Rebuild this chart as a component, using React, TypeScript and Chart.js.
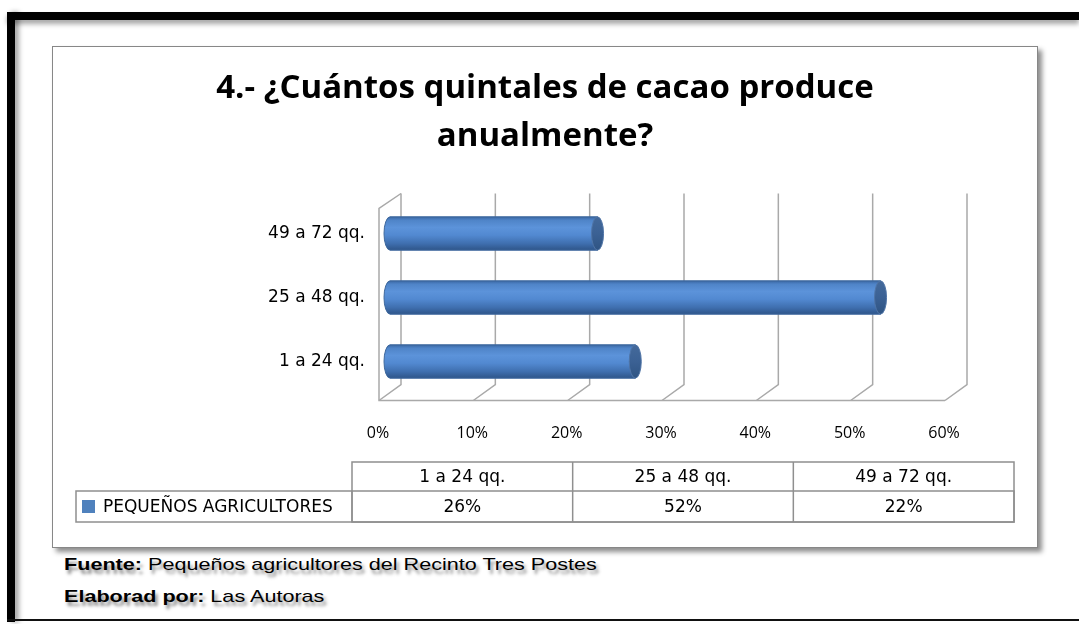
import React, { useEffect, useRef } from "react";
import { Chart, registerables } from "chart.js";

Chart.register(...registerables);

// ---------- data ----------
const TITLE_LINES = ["4.- ¿Cuántos quintales de cacao produce", "anualmente?"];
const CATEGORIES = ["1 a 24 qq.", "25 a 48 qq.", "49 a 72 qq."];
const SERIES_NAME = "PEQUEÑOS AGRICULTORES";
const VALUES = [26, 52, 22];
const AXIS_MAX = 60;
const AXIS_STEP = 10;
const SOURCE_LABEL = "Fuente:";
const SOURCE_TEXT = "Pequeños agricultores del Recinto Tres Postes";
const AUTHOR_LABEL = "Elaborad por:";
const AUTHOR_TEXT = "Las Autoras";

const BAR_BLUE = "#4f81bd";

// 3D box (back wall, floor, side wall) drawn from the x scale
const grid3d = {
  id: "grid3d",
  beforeDatasetsDraw(chart: any) {
    const { ctx, chartArea, scales } = chart;
    const x = scales.x;
    const { top, bottom } = chartArea;
    const DX = 11;
    const backTop = top - 8;
    const backBottom = bottom - 9;
    const frontBottom = bottom + 7;
    ctx.save();
    ctx.strokeStyle = "#a9a9a9";
    ctx.lineWidth = 1.5;
    x.ticks.forEach((t: any) => {
      const px = x.getPixelForValue(t.value);
      ctx.beginPath();
      ctx.moveTo(px + DX, backTop);
      ctx.lineTo(px + DX, backBottom);
      ctx.lineTo(px - DX, frontBottom);
      ctx.stroke();
    });
    const x0 = x.getPixelForValue(0);
    const x1 = x.getPixelForValue(AXIS_MAX);
    ctx.beginPath();
    ctx.moveTo(x1 - DX, frontBottom);
    ctx.lineTo(x0 - DX, frontBottom);
    ctx.lineTo(x0 - DX, top + 7);
    ctx.lineTo(x0 + DX, backTop);
    ctx.stroke();
    ctx.restore();
  },
};

// cylinder shading over the library's bar elements
const cylinders = {
  id: "cylinders",
  afterDatasetsDraw(chart: any) {
    const { ctx } = chart;
    const meta = chart.getDatasetMeta(0);
    ctx.save();
    meta.data.forEach((el: any) => {
      const { x, y, base, height } = el.getProps(["x", "y", "base", "height"], true);
      const ry = height / 2;
      const rx = 6;
      const g = ctx.createLinearGradient(0, y - ry, 0, y + ry);
      g.addColorStop(0, "#3a67a3");
      g.addColorStop(0.1, "#4f84c8");
      g.addColorStop(0.32, "#5c93da");
      g.addColorStop(0.55, "#5289d1");
      g.addColorStop(0.8, "#3f6faf");
      g.addColorStop(1, "#2e5589");
      ctx.beginPath();
      ctx.moveTo(base, y - ry);
      ctx.lineTo(x, y - ry);
      ctx.lineTo(x, y + ry);
      ctx.lineTo(base, y + ry);
      ctx.ellipse(base, y, rx, ry, 0, Math.PI / 2, (3 * Math.PI) / 2);
      ctx.closePath();
      ctx.fillStyle = g;
      ctx.fill();
      ctx.strokeStyle = "#3d679c";
      ctx.lineWidth = 1;
      ctx.stroke();
      const gc = ctx.createLinearGradient(0, y - ry, 0, y + ry);
      gc.addColorStop(0, "#44699b");
      gc.addColorStop(0.5, "#3b6194");
      gc.addColorStop(1, "#2f5483");
      ctx.beginPath();
      ctx.ellipse(x, y, rx, ry, 0, 0, Math.PI * 2);
      ctx.fillStyle = gc;
      ctx.fill();
      ctx.strokeStyle = "#4f74a6";
      ctx.stroke();
    });
    ctx.restore();
  },
};

// data table below the plot
const dataTable = {
  id: "dataTable",
  afterDraw(chart: any) {
    const { ctx } = chart;
    const L0 = 24, L1 = 300, R = 962, T0 = 416, T1 = 445, B = 476;
    const n = CATEGORIES.length;
    const colW = (R - L1) / n;
    ctx.save();
    ctx.strokeStyle = "#8f8f8f";
    ctx.lineWidth = 1.5;
    ctx.strokeRect(L1, T0, R - L1, B - T0);
    ctx.strokeRect(L0, T1, R - L0, B - T1);
    for (let i = 1; i < n; i++) {
      ctx.beginPath();
      ctx.moveTo(L1 + i * colW, T0);
      ctx.lineTo(L1 + i * colW, B);
      ctx.stroke();
    }
    ctx.beginPath();
    ctx.moveTo(L1, T1);
    ctx.lineTo(L1, B);
    ctx.stroke();
    ctx.fillStyle = "#000";
    ctx.font = '17px "DejaVu Sans"';
    ctx.textAlign = "center";
    ctx.textBaseline = "middle";
    CATEGORIES.forEach((c, i) => {
      ctx.fillText(c, L1 + (i + 0.5) * colW, (T0 + T1) / 2 + 1);
      ctx.fillText(VALUES[i] + "%", L1 + (i + 0.5) * colW, (T1 + B) / 2 + 1);
    });
    ctx.fillStyle = BAR_BLUE;
    ctx.fillRect(L0 + 6, (T1 + B) / 2 - 6.5, 13, 13);
    ctx.fillStyle = "#000";
    ctx.textAlign = "left";
    ctx.fillText(SERIES_NAME, L0 + 27, (T1 + B) / 2 + 1);
    ctx.restore();
  },
};

export default function App() {
  const ref = useRef<HTMLCanvasElement>(null);
  useEffect(() => {
    const canvas = ref.current as HTMLCanvasElement;
    const chart = new Chart(canvas, {
      type: "bar",
      data: {
        labels: CATEGORIES,
        datasets: [
          {
            label: SERIES_NAME,
            data: VALUES,
            backgroundColor: BAR_BLUE,
            barPercentage: 0.52,
            categoryPercentage: 1,
          },
        ],
      },
      options: {
        indexAxis: "y",
        responsive: false,
        animation: false,
        devicePixelRatio: 1,
        layout: { padding: { left: 82, right: 82, top: 0, bottom: 94.5 } },
        plugins: {
          legend: { display: false },
          tooltip: { enabled: false },
          title: {
            display: true,
            text: TITLE_LINES,
            color: "#000",
            font: { family: '"Open Sans"', size: 33, weight: "bold", lineHeight: 48 / 33 },
            padding: { top: 18.5, bottom: 41 },
          },
        },
        scales: {
          x: {
            type: "linear",
            min: 0,
            max: AXIS_MAX,
            position: "bottom",
            grid: { display: false, drawTicks: false },
            border: { display: false },
            afterFit: (s: any) => {
              s.height = 60;
            },
            ticks: {
              stepSize: AXIS_STEP,
              autoSkip: false,
              maxRotation: 0,
              padding: 30,
              labelOffset: -12,
              color: "#000",
              font: { family: '"Open Sans"', size: 16 },
              callback: (v: any) => v + "%",
            },
          },
          y: {
            reverse: true,
            grid: { display: false, drawTicks: false },
            border: { display: false },
            afterFit: (s: any) => {
              s.width = 256;
            },
            ticks: {
              padding: 25,
              color: "#000",
              font: { family: '"DejaVu Sans"', size: 17 },
            },
          },
        },
      },
      plugins: [grid3d, cylinders, dataTable],
    } as any);
    return () => chart.destroy();
  }, []);

  const footStyle: React.CSSProperties = {
    position: "absolute",
    left: 64,
    font: '17px "Liberation Sans", Arial, sans-serif',
    lineHeight: "20px",
    color: "#000",
    whiteSpace: "nowrap",
    transform: "scaleX(1.27)",
    transformOrigin: "left center",
    textShadow: "2px 4px 3px rgba(0,0,0,0.45)",
  };

  return (
    <div
      style={{
        position: "absolute",
        left: 0,
        top: 0,
        width: 1079,
        height: 624,
        background: "#fff",
        overflow: "hidden",
      }}
    >
      <div style={{ position: "absolute", left: 7, top: 12, width: 1072, height: 8, background: "#000", boxShadow: "0 4px 5px rgba(0,0,0,0.35)" }} />
      <div style={{ position: "absolute", left: 7, top: 12, width: 8, height: 610, background: "#000", boxShadow: "4px 0 5px rgba(0,0,0,0.35)" }} />
      <div style={{ position: "absolute", left: 7, top: 619, width: 1072, height: 2, background: "#111" }} />
      <div
        style={{
          position: "absolute",
          left: 52,
          top: 46,
          width: 986,
          height: 502,
          boxSizing: "border-box",
          border: "1px solid #878787",
          background: "#fff",
          boxShadow: "4px 4px 5px rgba(0,0,0,0.45)",
        }}
      >
        <canvas
          ref={ref}
          width={986}
          height={502}
          style={{ position: "absolute", left: -1, top: -1, width: 986, height: 502 }}
        />
      </div>
      <div style={{ ...footStyle, top: 555 }}>
        <b>{SOURCE_LABEL}</b> {SOURCE_TEXT}
      </div>
      <div style={{ ...footStyle, top: 587 }}>
        <b>{AUTHOR_LABEL}</b> {AUTHOR_TEXT}
      </div>
    </div>
  );
}
